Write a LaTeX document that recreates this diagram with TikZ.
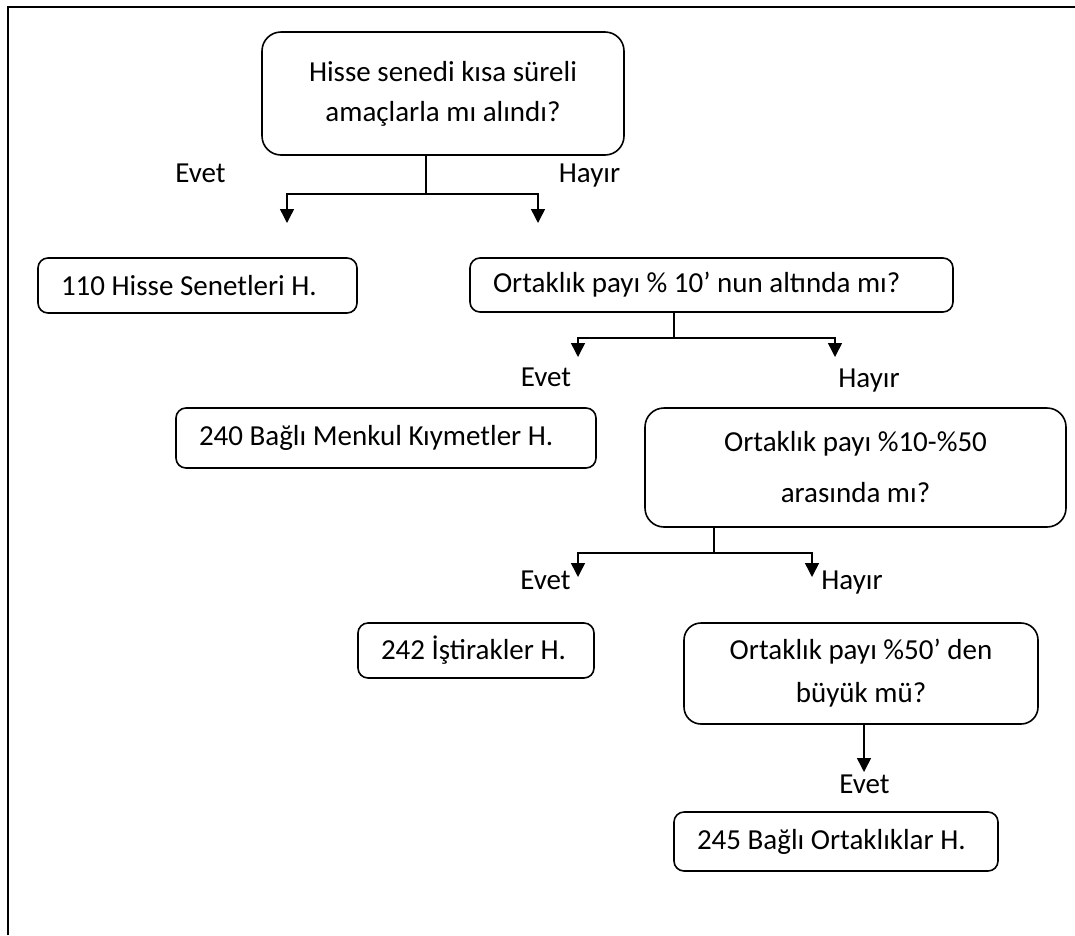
\documentclass[tikz,border=0pt]{standalone}
\usepackage{fontspec}
\setmainfont{Carlito}
\usepackage{tikz}
\usetikzlibrary{positioning}
\usetikzlibrary{shapes.geometric, arrows.meta}
\tikzstyle{question} = [draw,line width=1.6pt,rounded corners=19pt,align=center,inner sep=0pt]
\tikzstyle{account} = [draw,line width=1.6pt,rounded corners=10pt,inner xsep=23pt,inner ysep=0pt]
\tikzstyle{answer} = [anchor=base,inner sep=0pt]
\tikzstyle{stem} = [line width=1.5pt]
\tikzstyle{arrow} = [line width=1.5pt,-{Triangle[length=14pt,width=14pt]}]
\newcommand{\acct}[2]{\makebox[#1][l]{#2}}

\begin{document}
\begin{tikzpicture}[x=1pt,y=-1pt,font=\fontsize{29}{40}\selectfont]
	\useasboundingbox (0,0) rectangle (1075,935);
	\draw[line width=2pt] (8,935) -- (8,7) -- (1075,7);

	%Nodes
	\node [question,minimum width=362pt,minimum height=123pt] (q1) at (443,93.5) {Hisse senedi kısa süreli\\amaçlarla mı alındı?};
	\node [account,minimum height=55pt] (h110) at (197.5,285.5) {\acct{273pt}{110 Hisse Senetleri H.}};
	\node [account,minimum height=54pt] (q2) at (711.5,285) {\acct{437pt}{Ortaklık payı \% 10’ nun altında mı?}};
	\node [account,minimum height=60pt] (h240) at (386,438) {\acct{374pt}{240 Bağlı Menkul Kıymetler H.}};
	\node [question,minimum width=421pt,minimum height=119pt] (q3) at (855.5,467.5) {Ortaklık payı \%10-\%50\\[11pt]arasında mı?};
	\node [account,minimum height=55pt] (h242) at (476,650.5) {\acct{190pt}{242 İştirakler H.}};
	\node [question,minimum width=354pt,minimum height=101pt,rounded corners=17pt] (q4) at (861,673.5) {Ortaklık payı \%50’ den\\[3pt]büyük mü?};
	\node [account,minimum height=59pt] (h245) at (836,841.5) {\acct{278pt}{245 Bağlı Ortaklıklar H.}};

	%Branch points and arrow ends
	\coordinate (j1) at (426,194);
	\coordinate (e1) at (287,223);
	\coordinate (h1) at (538,223);
	\coordinate (j2) at (674,338);
	\coordinate (e2) at (578,357);
	\coordinate (h2) at (835,357);
	\coordinate (j3) at (714,553);
	\coordinate (e3) at (578,577);
	\coordinate (h3) at (812,577);
	\coordinate (e4) at (864,772);

	%Answers
	\node [answer] (evet1) at (200.5,182) {Evet};
	\node [answer] (hayir1) at (589.5,182) {Hayır};
	\node [answer] (evet2) at (546,386) {Evet};
	\node [answer] (hayir2) at (869,387) {Hayır};
	\node [answer] (evet3) at (545.5,589) {Evet};
	\node [answer] (hayir3) at (852,589) {Hayır};
	\node [answer] (evet4) at (864.5,793) {Evet};

	%Lines
	\draw[stem] (j1 |- q1.south) -- (j1);
	\draw[arrow] (j1) -| (e1);
	\draw[arrow] (j1) -| (h1);
	\draw[stem] (j2 |- q2.south) -- (j2);
	\draw[arrow] (j2) -| (e2);
	\draw[arrow] (j2) -| (h2);
	\draw[stem] (j3 |- q3.south) -- (j3);
	\draw[arrow] (j3) -| (e3);
	\draw[arrow] (j3) -| (h3);
	\draw[arrow] (e4 |- q4.south) -- (e4);

\end{tikzpicture}
\end{document}
